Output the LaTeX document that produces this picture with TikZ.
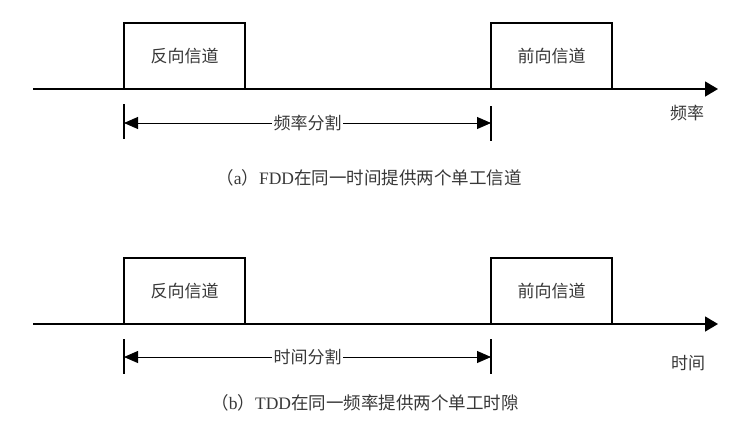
\documentclass[tikz,border=0pt]{standalone}
\usepackage{fontspec}
\setmainfont{Liberation Serif}
\newfontfamily\cjk{Noto Sans CJK SC}
\usetikzlibrary{arrows.meta}
\definecolor{txt}{rgb}{0.22,0.22,0.22}
\begin{document}
\begin{tikzpicture}[x=1pt,y=-1pt,
  chan/.style={draw, line width=1.5pt, minimum width=121pt, minimum height=66pt, inner sep=0pt, text=txt, font=\cjk\fontsize{17}{19}\selectfont},
  lbl/.style={text=txt, inner sep=1.5pt, font=\cjk\fontsize{17}{19}\selectfont},
  dimlbl/.style={lbl, fill=white},
  captext/.style={text=txt, inner sep=0pt, font=\fontsize{17.5}{19}\selectfont},
  axis/.style={line width=1.5pt, -{Triangle[length=13pt,width=15pt]}},
  dim/.style={line width=0.9pt, -{Triangle[length=14pt,width=12pt]}},
  tickline/.style={line width=1.3pt}]
\useasboundingbox (0,0) rectangle (741,424);
\fill[white] (0,0) rectangle (741,424);

% ---------- panel (a)
\coordinate (axAs) at (33,89);
\coordinate (axAe) at (718,89);
\node[chan] (revA) at (184.5,56) {反向信道};
\node[chan] (fwdA) at (551.5,56) {前向信道};
\draw[axis] (axAs) -- (axAe);
\coordinate (tAl1) at (124,104); \coordinate (tAl2) at (124,139);
\coordinate (tAr1) at (491,106); \coordinate (tAr2) at (491,141);
\draw[tickline] (tAl1) -- (tAl2);
\draw[tickline] (tAr1) -- (tAr2);
\coordinate (dAl) at (124,123); \coordinate (dAr) at (491,123);
\node[dimlbl] (dA) at (307.5,123) {频率分割};
\draw[dim] (dA.west) -- (dAl);
\draw[dim] (dA.east) -- (dAr);
\node[lbl] (fA) at (687,113) {频率};
\node[captext] (capA) at (369,178) {{\cjk （}a{\cjk ）}FDD{\cjk 在同一时间提供两个单工信道}};

% ---------- panel (b)
\coordinate (axBs) at (33,324);
\coordinate (axBe) at (718,324);
\node[chan] (revB) at (184.5,291) {反向信道};
\node[chan] (fwdB) at (551.5,291) {前向信道};
\draw[axis] (axBs) -- (axBe);
\coordinate (tBl1) at (124,339); \coordinate (tBl2) at (124,374);
\coordinate (tBr1) at (491,339); \coordinate (tBr2) at (491,374);
\draw[tickline] (tBl1) -- (tBl2);
\draw[tickline] (tBr1) -- (tBr2);
\coordinate (dBl) at (124,357); \coordinate (dBr) at (491,357);
\node[dimlbl] (dB) at (307.5,357) {时间分割};
\draw[dim] (dB.west) -- (dBl);
\draw[dim] (dB.east) -- (dBr);
\node[lbl] (fB) at (688,363) {时间};
\node[captext] (capB) at (365,403) {{\cjk （}b{\cjk ）}TDD{\cjk 在同一频率提供两个单工时隙}};
\end{tikzpicture}
\end{document}
